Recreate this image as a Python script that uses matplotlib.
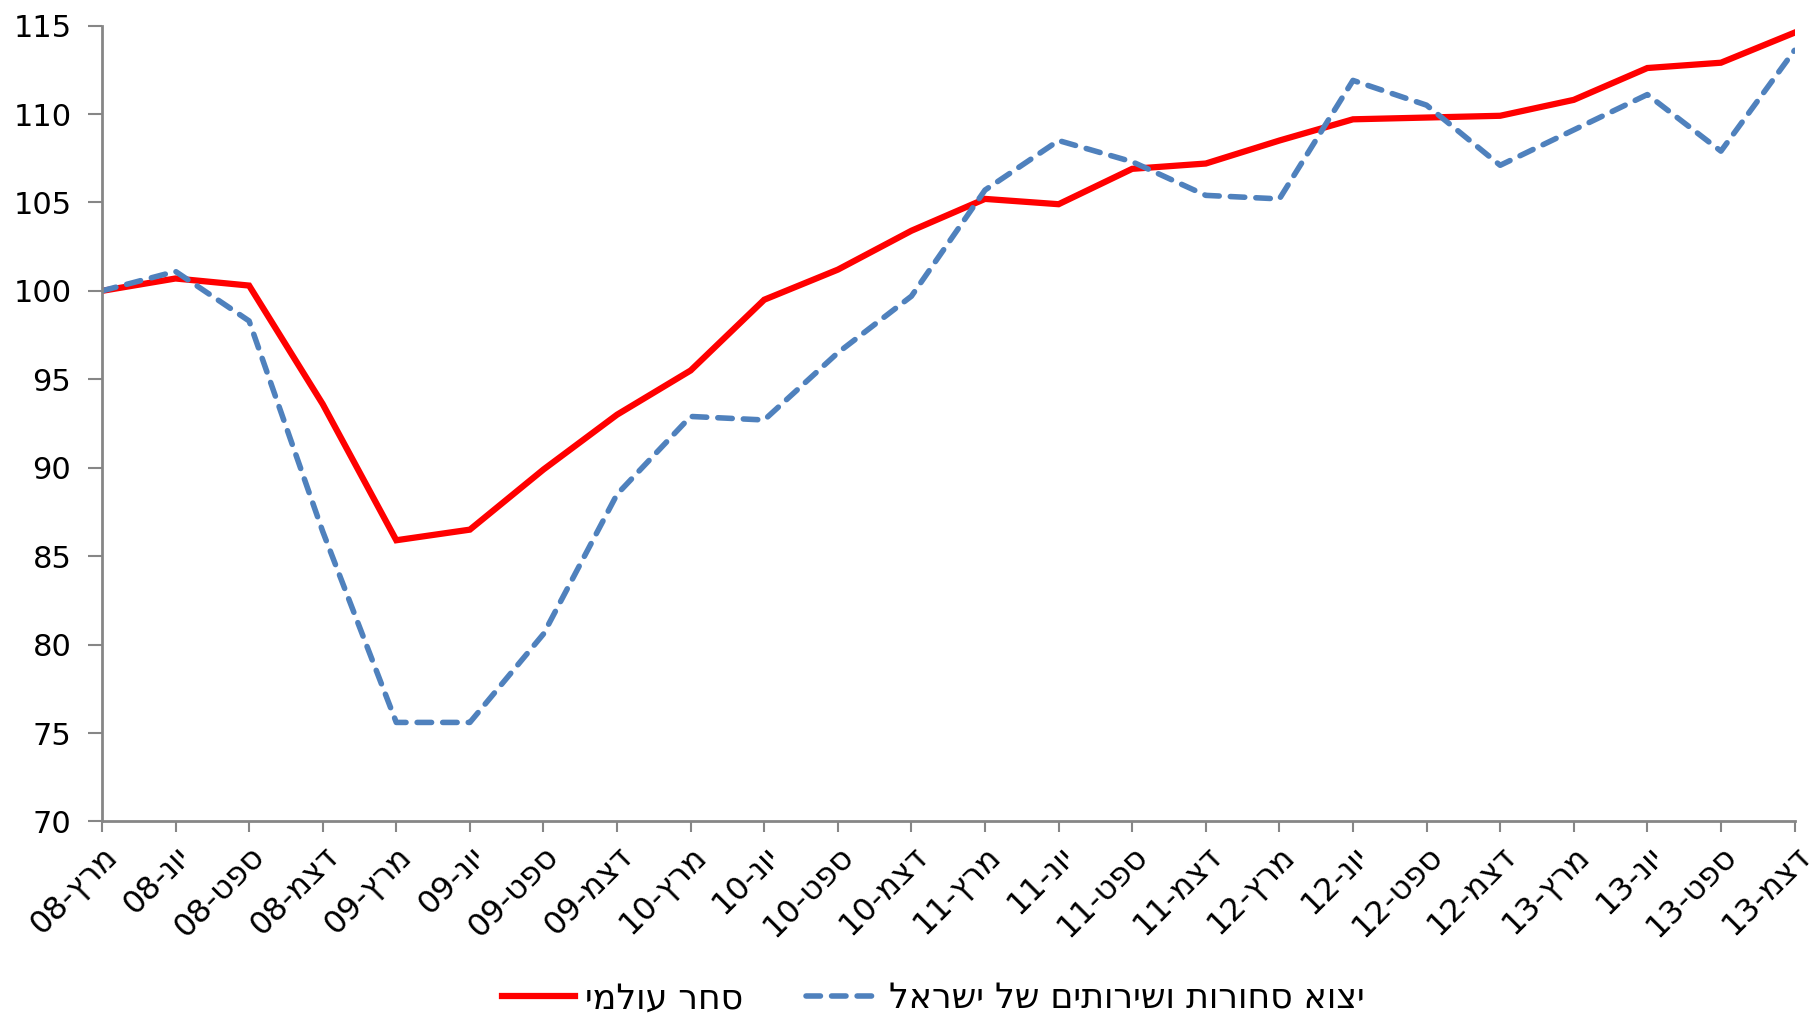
import matplotlib
matplotlib.use('Agg')
import matplotlib.pyplot as plt
from matplotlib.transforms import ScaledTranslation

# quarters Mar-08 .. Dec-13
months = ['מרץ', 'יונ', 'ספט', 'דצמ']
years = ['08', '09', '10', '11', '12', '13']

world_trade = [100, 100.7, 100.3, 93.6, 85.9, 86.5, 89.9, 93.0, 95.5, 99.5,
               101.2, 103.4, 105.2, 104.9, 106.9, 107.2, 108.5, 109.7, 109.8,
               109.9, 110.8, 112.6, 112.9, 114.6]
israel_exports = [100, 101.1, 98.3, 86.4, 75.6, 75.6, 80.6, 88.5, 92.9, 92.7,
                  96.5, 99.7, 105.7, 108.5, 107.3, 105.4, 105.2, 111.9, 110.5,
                  107.1, 109.1, 111.1, 107.9, 113.6]

name_world = 'סחר עולמי'
name_israel = 'יצוא סחורות ושירותים של ישראל'

# matplotlib has no bidi support, so hebrew is reversed by hand
def rtl(s):
    return s[::-1]

labels = [y + '-' + rtl(m) for y in years for m in months]
x = list(range(len(labels)))

plt.rcParams['font.family'] = ['DejaVu Sans']

fig = plt.figure(figsize=(18.2, 10.23), dpi=100)
ax = fig.add_axes([0.056, 0.197, 0.930, 0.778])

ax.plot(x, world_trade, color='#FF0000', lw=4.5, solid_joinstyle='miter',
        label=rtl(name_world))
ax.plot(x, israel_exports, color='#4F81BD', lw=4.0, dashes=(2.6, 2.0),
        dash_capstyle='round', label=rtl(name_israel))

ax.set_xlim(0, len(x) - 1)
ax.set_ylim(70, 115)
ax.set_yticks(range(70, 116, 5))
ax.set_xticks(x)
ax.set_xticklabels(labels, rotation=45, ha='right', va='top',
                   rotation_mode='anchor', fontsize=23)
# nudge the rotated labels a little to the left
shift = ScaledTranslation(-5 / 72, 0, fig.dpi_scale_trans)
for lbl in ax.get_xticklabels():
    lbl.set_transform(lbl.get_transform() + shift)
ax.tick_params(axis='y', labelsize=22, length=10, width=1.5, color='#868686',
               pad=12)
ax.tick_params(axis='x', length=8, width=1.5, color='#868686', pad=6)

for side in ['top', 'right']:
    ax.spines[side].set_visible(False)
for side in ['left', 'bottom']:
    ax.spines[side].set_color('#868686')
    ax.spines[side].set_linewidth(2)

fig.legend(loc='center', bbox_to_anchor=(0.513, 0.024), ncol=2,
           frameon=False, fontsize=25, handlelength=2.1, columnspacing=1.8,
           handletextpad=0.3)

fig.savefig('out.png', dpi=100)
